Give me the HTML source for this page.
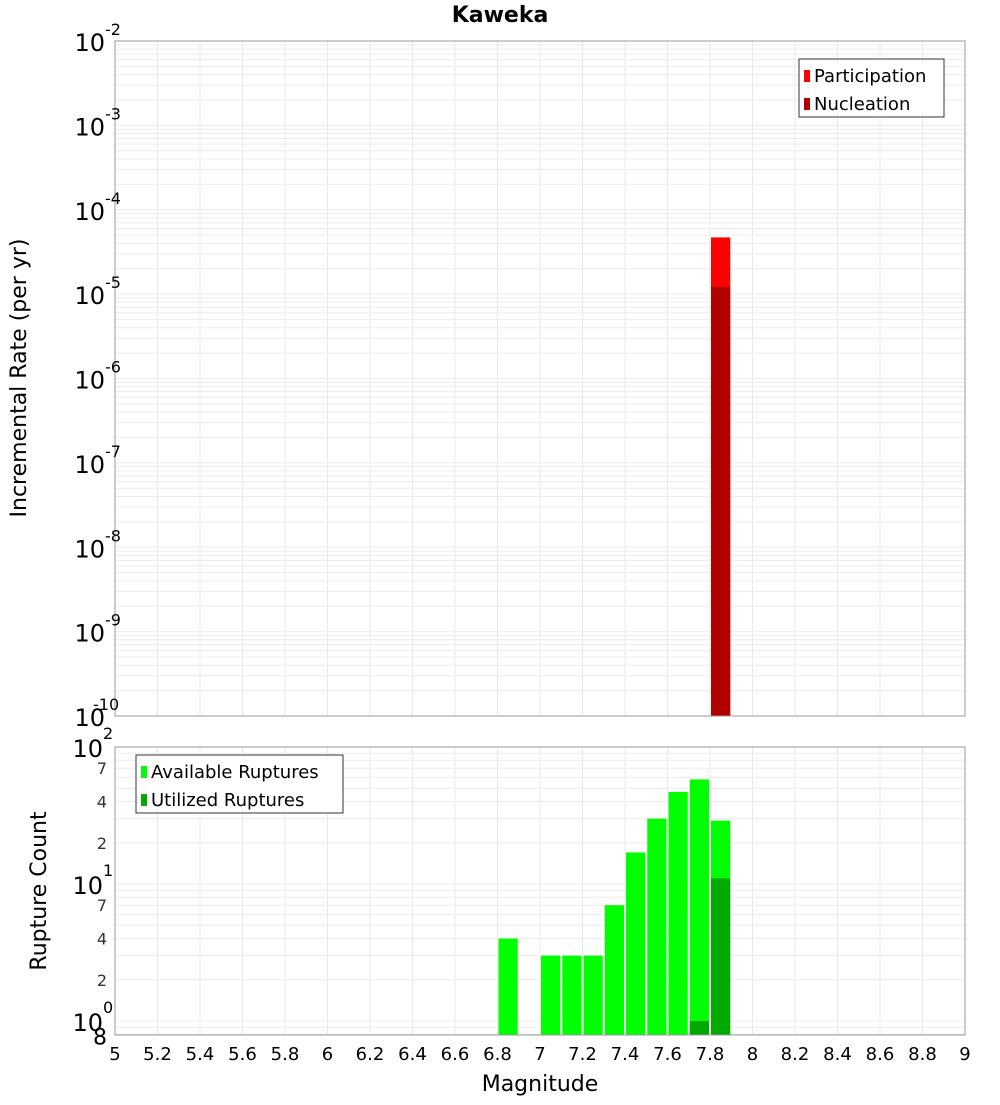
<!DOCTYPE html>
<html><head><meta charset="utf-8"><style>
body{margin:0;background:#fff;font-family:"Liberation Sans","DejaVu Sans",sans-serif}
svg text{font-family:"DejaVu Sans","Liberation Sans",sans-serif}
</style></head><body>
<svg id="c" width="1000" height="1100" xmlns="http://www.w3.org/2000/svg"></svg>
<script>
const binStarts=[6.8,7.0,7.1,7.2,7.3,7.4,7.5,7.6,7.7,7.8];
const availableCounts=[4,3,3,3,7,17,30,47,58,29];
const utilizedBins=[7.7,7.8];
const utilizedCounts=[1,11];
const rateBins=[7.8];
const participationRates=[4.7e-5];
const nucleationRates=[1.22e-5];
const xTicks=[5,5.2,5.4,5.6,5.8,6,6.2,6.4,6.6,6.8,7,7.2,7.4,7.6,7.8,8,8.2,8.4,8.6,8.8,9];
const topExps=[-2,-3,-4,-5,-6,-7,-8,-9,-10];
const botMinorLabels=[7,4,2];

const svg=document.getElementById('c');
const NS='http://www.w3.org/2000/svg';
function mk(t,a,p){const e=document.createElementNS(NS,t);for(const k in a)e.setAttribute(k,a[k]);(p||svg).appendChild(e);return e;}
const L=115,R=965;
const x=v=>L+(v-5)/4*(R-L);
const T1=41,B1=716;
const yTop=v=>T1+(-2-Math.log10(v))/8*(B1-T1);
const T2=747,B2=1035,DEC=137;
const yBot=v=>T2+(2-Math.log10(v))*DEC;

const g1=mk('g',{});
const g2=mk('g',{});
mk('rect',{x:L,y:T1,width:R-L,height:B1-T1,fill:'#fff'},g1);
mk('rect',{x:L,y:T2,width:R-L,height:B2-T2,fill:'#fff'},g2);
// grids
for(const t of xTicks){mk('line',{x1:x(t),x2:x(t),y1:T1,y2:B1,stroke:'#e8e8e8'},g1);mk('line',{x1:x(t),x2:x(t),y1:T2,y2:B2,stroke:'#e8e8e8'},g2);}
for(let e=-10;e<-2;e++)for(let m=1;m<10;m++){const yy=yTop(m*Math.pow(10,e));mk('line',{x1:L,x2:R,y1:yy,y2:yy,stroke:'#ececec'},g1);}
for(let e=-1;e<2;e++)for(let m=1;m<10;m++){const v=m*Math.pow(10,e);const yy=yBot(v);if(yy>B2||yy<T2)continue;mk('line',{x1:L,x2:R,y1:yy,y2:yy,stroke:'#ececec'},g2);}
// top bars
rateBins.forEach((b,i)=>{
 const r=mk('rect',{x:x(b)+1,y:yTop(participationRates[i]),width:x(b+0.1)-x(b)-2,height:B1-yTop(participationRates[i]),fill:'#ff0000'},g1);
 
 const n=mk('rect',{x:x(b)+1,y:yTop(nucleationRates[i]),width:x(b+0.1)-x(b)-2,height:B1-yTop(nucleationRates[i]),fill:'#b00000'},g1);
 
});
// bottom bars
binStarts.forEach((b,i)=>{
 const r=mk('rect',{x:x(b)+1,y:yBot(availableCounts[i]),width:x(b+0.1)-x(b)-2,height:B2-yBot(availableCounts[i]),fill:'#00ff00'},g2);
 
});
utilizedBins.forEach((b,i)=>{
 const r=mk('rect',{x:x(b)+1,y:yBot(utilizedCounts[i]),width:x(b+0.1)-x(b)-2,height:B2-yBot(utilizedCounts[i]),fill:'#00aa00'},g2);
 
});
mk('rect',{x:L,y:T1,width:R-L,height:B1-T1,fill:'none',stroke:'#999'},g1);
mk('rect',{x:L,y:T2,width:R-L,height:B2-T2,fill:'none',stroke:'#999'},g2);
// top y labels
topExps.forEach(e=>{
 const yy=yTop(Math.pow(10,e));
 const t=mk('text',{x:L-10,y:yy+10,'text-anchor':'end','font-size':24,fill:'#000'});
 
 t.textContent='10';
 const s=mk('text',{x:L-10,y:yy-6,'font-size':16,fill:'#000'});
 
 s.textContent=String(e);
 s.setAttribute('x',L-10+(e<=-10?-12:0));
});
// bottom y labels
[[2,'2'],[1,'1'],[0,'0']].forEach(([e,s])=>{
 const yy=yBot(Math.pow(10,e));
 const t=mk('text',{x:L-12,y:yy+10,'text-anchor':'end','font-size':24,fill:'#000'});
 
 t.textContent='10';
 const u=mk('text',{x:L-12,y:yy-8,'font-size':16,fill:'#000'});
 
 u.textContent=s;
});
for(let e=0;e<2;e++)botMinorLabels.forEach(m=>{
 const yy=yBot(m*Math.pow(10,e));
 const t=mk('text',{x:L-8,y:yy+6,'text-anchor':'end','font-size':16,fill:'#333'});
 
 t.textContent=String(m);
});
{const t=mk('text',{x:L-8,y:yBot(0.8)+10,'text-anchor':'end','font-size':22,fill:'#000'});t.textContent='8';}
// x labels
xTicks.forEach(v=>{
 const t=mk('text',{x:x(v),y:1060,'text-anchor':'middle','font-size':18,fill:'#000'});
 
 t.textContent=String(v);
});
function txt(s,a,name){const t=mk('text',a);t.textContent=s;return t;}
txt('Kaweka',{x:500,y:22,'text-anchor':'middle','font-size':22,'font-weight':'bold'},'chart-title');
txt('Magnitude',{x:540,y:1091,'text-anchor':'middle','font-size':22},'x-axis-title');
txt('Incremental Rate (per yr)',{x:0,y:0,'text-anchor':'middle','font-size':22,transform:'translate(26,378) rotate(-90)'},'y-axis-title-top');
txt('Rupture Count',{x:0,y:0,'text-anchor':'middle','font-size':22,transform:'translate(46,891) rotate(-90)'},'y-axis-title-bottom');
// legends
function legend(x0,y0,w,items,name){
 const g=mk('g',{});
 mk('rect',{x:x0,y:y0,width:w,height:58,fill:'#fff',stroke:'#333'},g);
 items.forEach(([lab,col],i)=>{
  mk('rect',{x:x0+5,y:y0+11+i*28,width:6,height:12,fill:col},g);
  const t=mk('text',{x:x0+15,y:y0+23+i*28,'font-size':18},g);t.textContent=lab;
  
 });
}
legend(799,59,145,[['Participation','#ff0000'],['Nucleation','#b00000']],'legend-top');
legend(136,755,207,[['Available Ruptures','#00ff00'],['Utilized Ruptures','#00aa00']],'legend-bottom');
</script>
</body></html>
